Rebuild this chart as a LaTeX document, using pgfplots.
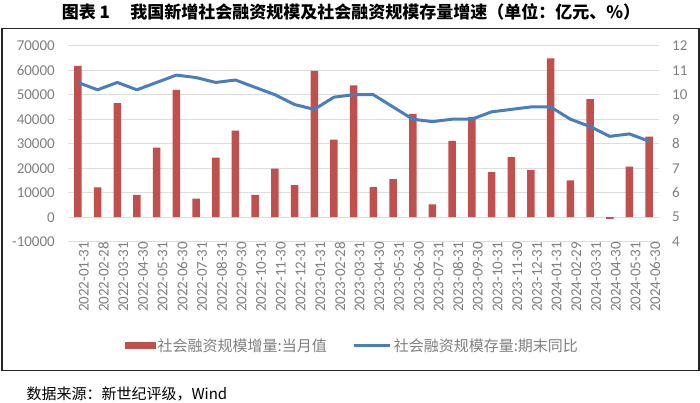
\documentclass[border=0pt]{standalone}
\usepackage{fontspec}
\setmainfont{Carlito}
\newfontfamily\cjk{Noto Sans CJK SC}
\usepackage{pgfplots}
\pgfplotsset{compat=1.18}
\definecolor{barred}{HTML}{C0504D}
\definecolor{lineblue}{HTML}{4A7EBB}
\definecolor{gridgray}{HTML}{DDDDDD}
\definecolor{ticktext}{HTML}{7F7F7F}
\newcommand\tickfont{\fontsize{15bp}{15bp}\selectfont}
\pgfplotstableread{
x y
0 61726
1 12166
2 46531
3 9102
4 28399
5 51926
6 7561
7 24319
8 35295
9 9079
10 19837
11 13058
12 59776
13 31624
14 53800
15 12249
16 15554
17 42200
18 5282
19 31200
20 41000
21 18400
22 24500
23 19300
24 64800
25 15000
26 48200
27 -658
28 20600
29 32900
}\bars
\pgfplotstableread{
x y
0 10.5
1 10.2
2 10.5
3 10.2
4 10.5
5 10.8
6 10.7
7 10.5
8 10.6
9 10.3
10 10.0
11 9.6
12 9.4
13 9.9
14 10.0
15 10.0
16 9.5
17 9.0
18 8.9
19 9.0
20 9.0
21 9.3
22 9.4
23 9.5
24 9.5
25 9.0
26 8.7
27 8.3
28 8.4
29 8.1
}\growth
\begin{document}
\begin{tikzpicture}
\useasboundingbox (0bp,0bp) rectangle (700bp,403bp);
\fill[white] (0bp,0bp) rectangle (700bp,403bp);
\draw[line width=1.5bp, black!85] (2bp,32.5bp) rectangle (699bp,374.5bp);
\node[font={\cjk\bfseries\fontsize{17bp}{18bp}\selectfont}] at (351bp,391bp) {图表 1\hspace{1.2em}我国新增社会融资规模及社会融资规模存量增速（单位：亿元、\%）};
\node[anchor=west, font={\cjk\fontsize{15bp}{16bp}\selectfont}] at (23bp,9bp) {数据来源：新世纪评级，Wind};
\begin{axis}[
  at={(68bp,161.3bp)}, anchor=south west, scale only axis,
  width=591bp, height=196bp,
  xmin=-0.5, xmax=29.5, ymin=-10000, ymax=70000,
  ytick={-10000,0,10000,20000,30000,40000,50000,60000,70000},
  scaled y ticks=false,
  /pgf/number format/.cd, 1000 sep={}, assume math mode=true, /pgfplots/.cd,
  ymajorgrids, grid style={gridgray, line width=0.8bp},
  axis line style={draw=none}, major tick length=0pt,
  xtick={0,...,29},
  xticklabels={2022-01-31,2022-02-28,2022-03-31,2022-04-30,2022-05-31,2022-06-30,2022-07-31,2022-08-31,2022-09-30,2022-10-31,2022-11-30,2022-12-31,2023-01-31,2023-02-28,2023-03-31,2023-04-30,2023-05-31,2023-06-30,2023-07-31,2023-08-31,2023-09-30,2023-10-31,2023-11-30,2023-12-31,2024-01-31,2024-02-29,2024-03-31,2024-04-30,2024-05-31,2024-06-30},
  xticklabel style={rotate=90, anchor=east, ticktext, font=\tickfont, inner sep=0pt, yshift=-6bp},
  yticklabel style={ticktext, font=\tickfont, inner sep=0pt, xshift=-13bp},
  legend style={at={(0.481,-0.532)}, anchor=center, draw=none, fill=none,
    legend columns=2, font={\cjk\fontsize{15bp}{16bp}\selectfont\color{ticktext}}, text=ticktext,
    /tikz/every even column/.append style={column sep=24bp}},
]
\addplot[ybar, bar width=7.5bp, fill=barred, draw=none,
  legend image code/.code={\fill[barred] (0bp,-3.5bp) rectangle (31bp,3.5bp);}]
  table[x=x,y=y] {\bars};
\addlegendentry{社会融资规模增量:当月值}
\addlegendimage{legend image code/.code={\draw[lineblue, line width=3bp] (0bp,0bp) -- (36bp,0bp);}}
\addlegendentry{社会融资规模存量:期末同比}
\end{axis}
\begin{axis}[
  at={(68bp,161.3bp)}, anchor=south west, scale only axis,
  width=591bp, height=196bp,
  xmin=-0.5, xmax=29.5, ymin=4, ymax=12,
  ytick={4,5,...,12},
  axis y line*=right, axis x line=none,
  axis line style={draw=none}, major tick length=0pt,
  /pgf/number format/assume math mode=true,
  yticklabel style={ticktext, font=\tickfont, inner sep=0pt, xshift=13bp},
]
\addplot[lineblue, line width=3bp, line join=round] table[x=x,y=y] {\growth};
\end{axis}
\end{tikzpicture}
\end{document}
